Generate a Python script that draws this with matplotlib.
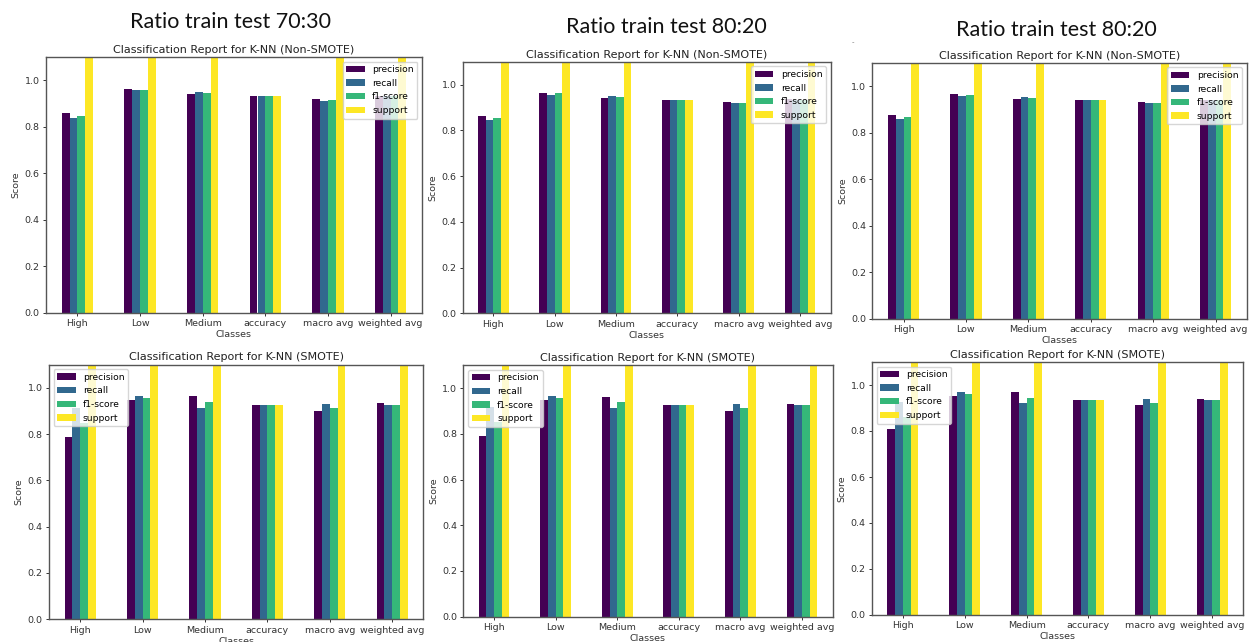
import numpy as np
import matplotlib.pyplot as plt

classes = ['High', 'Low', 'Medium', 'accuracy', 'macro avg', 'weighted avg']
metrics = ['precision', 'recall', 'f1-score', 'support']
colors = ['#440154', '#31688e', '#35b779', '#fde725']

# 70:30 split, original data
prec_7030 = [0.858, 0.961, 0.941, 0.933, 0.918, 0.934]
rec_7030 = [0.838, 0.957, 0.950, 0.933, 0.912, 0.933]
f1_7030 = [0.848, 0.958, 0.944, 0.933, 0.915, 0.933]
sup_7030 = [58, 162, 80, 0.933, 300, 300]

# 80:20 split, original data
prec_8020 = [0.864, 0.964, 0.942, 0.934, 0.924, 0.935]
rec_8020 = [0.843, 0.955, 0.949, 0.934, 0.919, 0.934]
f1_8020 = [0.856, 0.961, 0.946, 0.934, 0.921, 0.934]
sup_8020 = [39, 108, 53, 0.934, 200, 200]

# 80:20 split, second run, original data
prec_8020b = [0.877, 0.967, 0.946, 0.940, 0.931, 0.941]
rec_8020b = [0.860, 0.956, 0.953, 0.940, 0.926, 0.940]
f1_8020b = [0.868, 0.961, 0.950, 0.940, 0.928, 0.940]
sup_8020b = [39, 108, 53, 0.940, 200, 200]

# 70:30 split, SMOTE
prec_7030_sm = [0.788, 0.947, 0.964, 0.925, 0.899, 0.934]
rec_7030_sm = [0.911, 0.966, 0.911, 0.925, 0.929, 0.925]
f1_7030_sm = [0.847, 0.955, 0.938, 0.925, 0.912, 0.926]
sup_7030_sm = [58, 162, 80, 0.925, 300, 300]

# 80:20 split, SMOTE
prec_8020_sm = [0.790, 0.948, 0.962, 0.927, 0.901, 0.930]
rec_8020_sm = [0.916, 0.965, 0.913, 0.927, 0.931, 0.927]
f1_8020_sm = [0.850, 0.956, 0.937, 0.927, 0.914, 0.927]
sup_8020_sm = [39, 108, 53, 0.927, 200, 200]

# 80:20 split, second run, SMOTE
prec_8020b_sm = [0.809, 0.954, 0.968, 0.936, 0.912, 0.941]
rec_8020b_sm = [0.927, 0.968, 0.923, 0.936, 0.941, 0.936]
f1_8020b_sm = [0.862, 0.962, 0.945, 0.936, 0.923, 0.936]
sup_8020b_sm = [39, 108, 53, 0.936, 200, 200]

W, H = 1256, 642
fig = plt.figure(figsize=(W / 100, H / 100), dpi=100)


def box(l, t, r, b):
    # pixel box (left, top, right, bottom) -> figure fraction rect
    return [l / W, 1 - b / H, (r - l) / W, (b - t) / H]


def draw_report(rect, values, title, loc):
    ax = fig.add_axes(rect)
    x = np.arange(len(classes))
    w = 0.125
    for i, (name, vals) in enumerate(zip(metrics, values)):
        ax.bar(x + (i - 1.5) * w, vals, w, color=colors[i], label=name)
    ax.set_xlim(-0.5, len(classes) - 0.5)
    ax.set_ylim(0, 1.1)
    ax.set_xticks(x)
    ax.set_xticklabels(classes)
    ax.set_yticks([0, 0.2, 0.4, 0.6, 0.8, 1.0])
    ax.tick_params(labelsize=6.8, length=2.5, width=0.7, colors='#333333', pad=2)
    for s in ax.spines.values():
        s.set_color('#555555')
        s.set_linewidth(1.0)
    ax.set_title(title, fontsize=8, pad=3, color='#222222')
    ax.set_xlabel('Classes', fontsize=6.8, labelpad=1.5, color='#333333')
    ax.set_ylabel('Score', fontsize=6.8, labelpad=3, color='#333333')
    ax.legend(loc=loc, fontsize=6.6, handlelength=2.0)
    return ax


top_title = 'Classification Report for K-NN (Non-SMOTE)'
bot_title = 'Classification Report for K-NN (SMOTE)'

draw_report(box(46, 57, 422, 313), [prec_7030, rec_7030, f1_7030, sup_7030],
            top_title, 'upper right')
draw_report(box(462.7, 61.7, 830.7, 313.3), [prec_8020, rec_8020, f1_8020, sup_8020],
            top_title, 'upper right')
draw_report(box(872.3, 62.7, 1246.7, 319), [prec_8020b, rec_8020b, f1_8020b, sup_8020b],
            top_title, 'upper right')
draw_report(box(49, 364.6, 423.3, 619.3),
            [prec_7030_sm, rec_7030_sm, f1_7030_sm, sup_7030_sm], bot_title, 'upper left')
draw_report(box(463.3, 365.2, 832.7, 616.7),
            [prec_8020_sm, rec_8020_sm, f1_8020_sm, sup_8020_sm], bot_title, 'upper left')
draw_report(box(872, 362, 1243, 615),
            [prec_8020b_sm, rec_8020b_sm, f1_8020b_sm, sup_8020b_sm], bot_title, 'upper left')

# split headings above each column
for cx, cy, txt in [(231, 22, 'Ratio train test 70:30'),
                    (666.7, 27, 'Ratio train test 80:20'),
                    (1056, 30, 'Ratio train test 80:20')]:
    fig.text(cx / W, 1 - cy / H, txt, ha='center', va='center',
             fontsize=15.5, family='Lato', color='#111111')
fig.text(853 / W, 1 - 42 / H, '-', ha='center', va='center', fontsize=5, color='#777777')

plt.savefig('out.png', dpi=100)
